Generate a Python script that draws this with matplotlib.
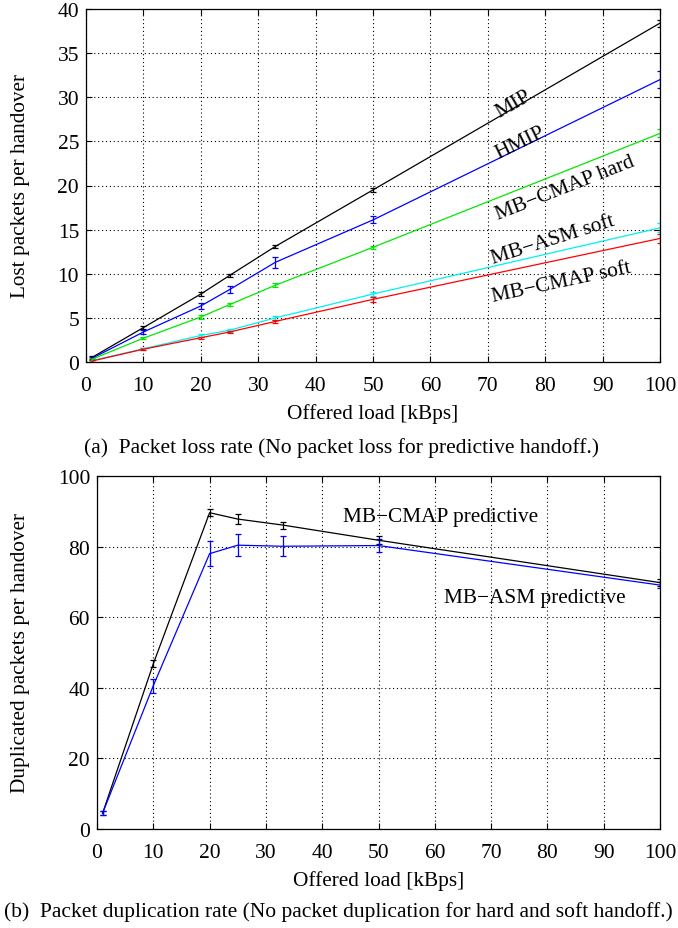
import matplotlib
matplotlib.use('Agg')
import matplotlib.pyplot as plt

plt.rcParams.update({'font.family': 'Liberation Serif', 'font.size': 15})

# offered load [kBps]
load = [1, 10, 20, 25, 33, 50, 100]

# (a) lost packets per handover
mip = [0.5, 3.9, 7.7, 9.8, 13.1, 19.5, 38.4]
mip_err = [0.15, 0.2, 0.25, 0.2, 0.2, 0.25, 0.4]
hmip = [0.4, 3.4, 6.35, 8.2, 11.3, 16.1, 32.0]
hmip_err = [0.15, 0.25, 0.3, 0.4, 0.6, 0.4, 0.95]
cmap_hard = [0.3, 2.7, 5.1, 6.5, 8.7, 13.0, 25.9]
cmap_hard_err = [0.1, 0.15, 0.2, 0.15, 0.2, 0.2, 0.45]
asm_soft = [0.15, 1.5, 3.0, 3.6, 5.0, 7.7, 15.2]
asm_soft_err = [0.1, 0.1, 0.15, 0.15, 0.2, 0.25, 0.5]
cmap_soft = [0.1, 1.45, 2.75, 3.4, 4.6, 7.1, 14.0]
cmap_soft_err = [0.1, 0.1, 0.1, 0.15, 0.2, 0.3, 0.5]

# (b) duplicated packets per handover
cmap_pred = [4.5, 46.8, 89.6, 87.8, 86.1, 81.8, 69.8]
cmap_pred_err = [0.5, 1.0, 1.0, 1.5, 1.0, 1.2, 1.0]
asm_pred = [4.5, 40.6, 78.0, 80.4, 80.1, 80.3, 69.1]
asm_pred_err = [0.6, 2.0, 3.6, 3.1, 2.8, 1.8, 0.8]

FS = 15.3

fig = plt.figure(figsize=(6.78, 9.29), dpi=100)
W, H = 678.0, 929.0
ax1 = fig.add_axes([86/W, 1-363/H, (660-86)/W, (363-10)/H])
ax2 = fig.add_axes([97/W, 1-830/H, (660-97)/W, (830-477)/H])

def style(ax, ymax, ystep):
  ax.set_xlim(0, 100)
  ax.set_ylim(0, ymax)
  ax.set_xticks(range(0, 101, 10))
  ax.set_yticks(range(0, ymax+1, ystep))
  ax.grid(True, linestyle=(0, (1, 2.5)), color='black', linewidth=0.8)
  ax.tick_params(direction='in', top=True, right=True, length=4, labelsize=15.5)
  ax.tick_params(axis='x', pad=10)
  ax.tick_params(axis='y', pad=5)
  for s in ax.spines.values():
    s.set_linewidth(0.9)
  ax.set_xlabel('Offered load [kBps]', fontsize=FS, labelpad=6)

eb = dict(linewidth=0.9, elinewidth=0.9, capsize=2.5, capthick=0.9)
ax1.errorbar(load, mip, yerr=mip_err, color='black', **eb)
ax1.errorbar(load, hmip, yerr=hmip_err, color='#0000ff', **eb)
ax1.errorbar(load, cmap_hard, yerr=cmap_hard_err, color='#00e800', **eb)
ax1.errorbar(load, asm_soft, yerr=asm_soft_err, color='#00f0f0', **eb)
ax1.errorbar(load, cmap_soft, yerr=cmap_soft_err, color='#ff0000', **eb)
style(ax1, 40, 5)
ax1.set_ylabel('Lost packets per handover', fontsize=FS, labelpad=20)

ax1.text(74.4, 29.3, 'MIP', rotation=30, ha='center', va='center', fontsize=FS)
ax1.text(75.6, 24.9, 'HMIP', rotation=26, ha='center', va='center', fontsize=FS)
ax1.text(83.4, 19.8, 'MB\u2212CMAP hard', rotation=21.5, ha='center', va='center', fontsize=FS)
ax1.text(81.4, 13.9, 'MB\u2212ASM soft', rotation=17.5, ha='center', va='center', fontsize=FS)
ax1.text(82.9, 9.1, 'MB\u2212CMAP soft', rotation=12, ha='center', va='center', fontsize=FS)

ax2.errorbar(load, cmap_pred, yerr=cmap_pred_err, color='black', **eb)
ax2.errorbar(load, asm_pred, yerr=asm_pred_err, color='#0000ff', **eb)
style(ax2, 100, 20)
ax2.set_ylabel('Duplicated packets per handover', fontsize=FS, labelpad=20)
ax2.text(61.1, 88.4, 'MB\u2212CMAP predictive', ha='center', va='center', fontsize=FS)
ax2.text(77.8, 65.7, 'MB\u2212ASM predictive', ha='center', va='center', fontsize=FS)

fig.text(342/W, 1-448/H, '(a)  Packet loss rate (No packet loss for predictive handoff.)',
         ha='center', va='center', fontsize=15.5)
fig.text(4/W, 1-912/H,
         '(b)  Packet duplication rate (No packet duplication for hard and soft handoff.)',
         ha='left', va='center', fontsize=15.5)

fig.savefig('out.png', dpi=100)
